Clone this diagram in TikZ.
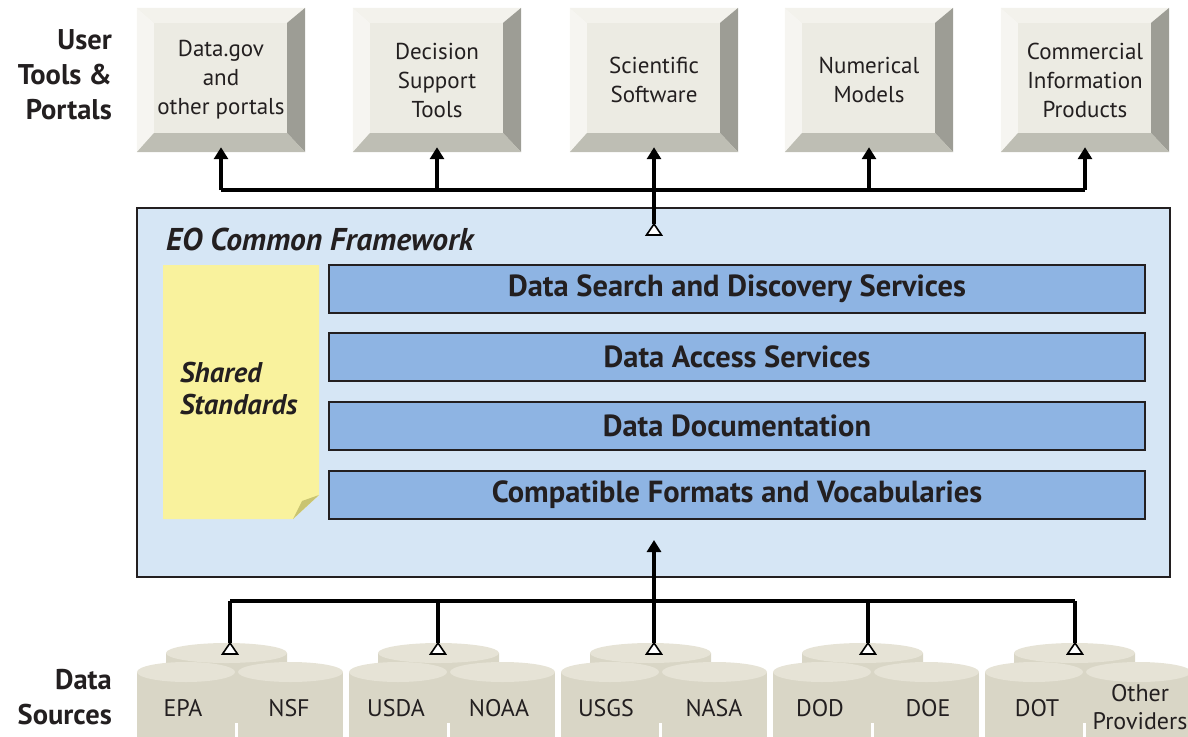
\documentclass[tikz,border=0pt]{standalone}
\usepackage{fontspec}
\setmainfont{PT Sans}
\usetikzlibrary{arrows.meta,calc}
\definecolor{ink}{HTML}{231F20}
\definecolor{faceC}{HTML}{ECEBE3}
\definecolor{bevTopC}{HTML}{F3F2EC}
\definecolor{bevLeftC}{HTML}{F6F5F1}
\definecolor{bevRightC}{HTML}{9D9D95}
\definecolor{bevBotC}{HTML}{BEBEB4}
\definecolor{frameC}{HTML}{D6E6F5}
\definecolor{barC}{HTML}{8EB4E3}
\definecolor{noteC}{HTML}{F9F29D}
\definecolor{flapC}{HTML}{C9C470}
\definecolor{cylBodyC}{HTML}{D9D6C6}
\definecolor{cylTopC}{HTML}{E6E3D6}
\begin{document}
\begin{tikzpicture}[x=1pt,y=-1pt,
  every node/.style={text=ink},
  toolbox/.style={fill=faceC, minimum width=168pt, minimum height=144pt,
    inner sep=0pt, align=center, font=\fontsize{23}{29}\selectfont},
  sidelabel/.style={anchor=east, align=right, inner sep=0pt,
    font=\fontsize{28.5}{35}\selectfont\bfseries},
  framebox/.style={fill=frameC, draw=ink, line width=2pt,
    minimum width=1033pt, minimum height=369pt, inner sep=0pt},
  fwtitle/.style={anchor=west, inner sep=0pt, font=\fontsize{31.5}{34}\selectfont\bfseries\itshape},
  servicebar/.style={fill=barC, draw=ink, line width=2pt, minimum width=816pt,
    minimum height=48pt, inner sep=0pt, font=\fontsize{30.5}{34}\selectfont\bfseries},
  notetext/.style={anchor=west, align=left, inner sep=0pt,
    font=\fontsize{28.5}{32}\selectfont\bfseries\itshape},
  cyllabel/.style={align=center, inner sep=0pt, font=\fontsize{24}{28}\selectfont},
  wire/.style={draw=black, line width=3.5pt},
  solidtip/.style={-{Triangle[width=14pt,length=12pt]}},
  opentri/.pic={\filldraw[fill=white, draw=black, line width=1.6pt, line join=miter]
     (0,0) -- (7.5,11) -- (-7.5,11) -- cycle;},
]
\useasboundingbox (0,0) rectangle (1188,736);
\clip (0,0) rectangle (1188,736);

% ---------- side labels ----------
\node[sidelabel] (lblUsers) at (112,75) {User\\Tools \&\\Portals};
\node[sidelabel] (lblSources) at (112,697) {Data\\Sources};

% ---------- user tools (bevelled keys) ----------
\foreach \i/\x/\txt in {1/221/{Data.gov\\and\\other portals},
                        2/437/{Decision\\Support\\Tools},
                        3/654/{Scientific\\Software},
                        4/869/{Numerical\\Models},
                        5/1085/{Commercial\\Information\\Products}} {
  \node[toolbox] (t\i) at (\x,80) {\txt};
  \fill[bevTopC] (t\i.north west) -- (t\i.north east) -- ($(t\i.north east)+(-18,15)$)
     -- ($(t\i.north west)+(17,15)$) -- cycle;
  \fill[bevLeftC] (t\i.north west) -- ($(t\i.north west)+(17,15)$)
     -- ($(t\i.south west)+(17,-19)$) -- (t\i.south west) -- cycle;
  \fill[bevRightC] (t\i.north east) -- ($(t\i.north east)+(-18,15)$)
     -- ($(t\i.south east)+(-18,-19)$) -- (t\i.south east) -- cycle;
  \fill[bevBotC] (t\i.south west) -- ($(t\i.south west)+(17,-19)$)
     -- ($(t\i.south east)+(-18,-19)$) -- (t\i.south east) -- cycle;
}

% ---------- common framework ----------
\node[framebox] (fw) at (653.5,392.5) {};
\node[fwtitle] (fwt) at (166,239) {EO Common Framework};

% sticky note with folded corner
\fill[noteC] (163,265) -- (319,265) -- (319,495) -- (293,519) -- (163,519) -- cycle;
\fill[flapC] (319,495) -- (293,519) -- (302,501) -- cycle;
\node[notetext] (note) at (180,389) {Shared\\Standards};

% service layers
\node[servicebar] (s1) at (737,288.5) {Data Search and Discovery Services};
\node[servicebar] (s2) at (737,356.5) {Data Access Services};
\node[servicebar] (s3) at (737,425.5) {Data Documentation};
\node[servicebar] (s4) at (737,494.5) {Compatible Formats and Vocabularies};

% ---------- data sources (cylinder stacks) ----------
\foreach \g/\s in {1/137, 2/349, 3/561, 4/773, 5/985} {
  % back cylinder
  \fill[cylBodyC] ({\s+29},653) -- ({\s+29},713)
     arc[start angle=180,end angle=0,x radius=60.5,y radius=10] -- ({\s+150},653) -- cycle;
  \fill[cylTopC] ({\s+89.5},653) ellipse[x radius=60.5,y radius=10];
  % front left cylinder
  \fill[cylBodyC] (\s,672) rectangle ({\s+98},760);
  \fill[cylTopC] ({\s+49},672) ellipse[x radius=49,y radius=10];
  % front right cylinder
  \fill[cylBodyC] ({\s+101},672) rectangle ({\s+206},760);
  \fill[cylTopC] ({\s+153.5},672) ellipse[x radius=52.5,y radius=10];
}
\node[cyllabel] (epa)  at (183,708) {EPA};
\node[cyllabel] (nsf)  at (289,708) {NSF};
\node[cyllabel] (usda) at (396,708) {USDA};
\node[cyllabel] (noaa) at (499,708) {NOAA};
\node[cyllabel] (usgs) at (606,708) {USGS};
\node[cyllabel] (nasa) at (714,708) {NASA};
\node[cyllabel] (dod)  at (820,708) {DOD};
\node[cyllabel] (doe)  at (928,708) {DOE};
\node[cyllabel] (dot)  at (1037,708) {DOT};
\node[cyllabel] (oth)  at (1140,707) {Other\\Providers};

% ---------- connectors ----------
% framework to user tools
\coordinate (hubTop) at (654,190);
\coordinate (fwOut) at (654,224);
\draw[wire] (t1.south |- hubTop) -- (t5.south |- hubTop);
\foreach \i in {1,2,4,5}
  \draw[wire,solidtip] (t\i.south |- hubTop) -- ($(t\i.south)+(0,-5)$);
\draw[wire,solidtip] (fwOut) -- ($(t3.south)+(0,-5)$);
\pic at (fwOut) {opentri};

% data sources to framework
\coordinate (hubBot) at (654,601);
\coordinate (fwIn) at (654,540);
\coordinate (src1) at (230,643);
\coordinate (src2) at (438,643);
\coordinate (src3) at (654,643);
\coordinate (src4) at (868,643);
\coordinate (src5) at (1075,643);
\draw[wire] (src1 |- hubBot) -- (src5 |- hubBot);
\foreach \i in {1,2,4,5}
  \draw[wire] (src\i |- hubBot) -- (src\i);
\draw[wire,solidtip] (src3) -- (fwIn);
\foreach \i in {1,...,5}
  \pic at (src\i) {opentri};
\end{tikzpicture}
\end{document}
